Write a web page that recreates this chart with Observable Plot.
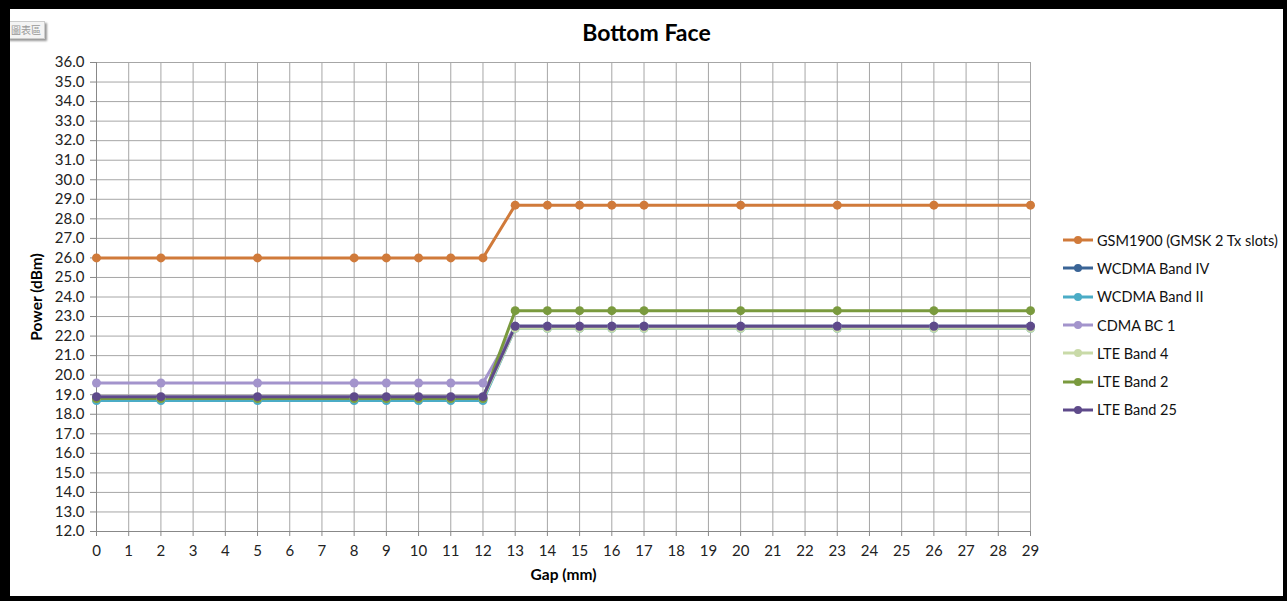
<!DOCTYPE html>
<html>
<head>
<meta charset="utf-8">
<script src="https://cdn.jsdelivr.net/npm/d3@7"></script>
<script src="https://cdn.jsdelivr.net/npm/@observablehq/plot@0.6"></script>
<style>
  html, body { margin: 0; padding: 0; background: #fff; }
  #frame {
    position: relative; width: 1287px; height: 601px; box-sizing: border-box;
    border-top: 9px solid #000; border-left: 10px solid #000;
    border-right: 4px solid #000; border-bottom: 5px solid #000;
    font-family: Lato, "Open Sans", sans-serif; overflow: hidden;
  }
  #title { position: absolute; left: 0; top: 0; width: 1273px; height: 41px; text-align: center;
    font-size: 23px; font-weight: bold; line-height: 46px; color: #000; }
  #tip { position: absolute; left: -3px; top: 12px; padding: 0 3px; font-size: 10px; line-height: 16px;
    color: #999; background: #f4f4f4; border: 1px solid #ccc; box-shadow: 2px 2px 2px #999;
    font-family: "Noto Sans CJK TC", sans-serif; }
  #chart { position: absolute; left: 0; top: 41px; }
  #legend { position: absolute; left: 1052px; top: 217px; font-size: 14.5px; color: #111; }
  .row { height: 28.3px; display: flex; align-items: center; }
  .row svg { margin-right: 3px; }
</style>
</head>
<body>
<div id="frame">
  <div id="title">Bottom Face</div>
  <div id="tip">圖表區</div>
  <div id="chart"></div>
  <div id="legend"></div>
</div>
<script>
const gaps = [0, 2, 5, 8, 9, 10, 11, 12, 13, 14, 15, 16, 17, 20, 23, 26, 29];
const seriesNames = ["GSM1900 (GMSK 2 Tx slots)", "WCDMA Band IV", "WCDMA Band II", "CDMA BC 1", "LTE Band 4", "LTE Band 2", "LTE Band 25"];
const seriesColors = ["#D07A3A", "#3A6496", "#4BACC6", "#A394CC", "#C9DAA8", "#7A9A3E", "#5E4A8A"];
const gsm1900   = [26.0, 26.0, 26.0, 26.0, 26.0, 26.0, 26.0, 26.0, 28.7, 28.7, 28.7, 28.7, 28.7, 28.7, 28.7, 28.7, 28.7];
const wcdmaIV   = [18.8, 18.8, 18.8, 18.8, 18.8, 18.8, 18.8, 18.8, 22.5, 22.5, 22.5, 22.5, 22.5, 22.5, 22.5, 22.5, 22.5];
const wcdmaII   = [18.7, 18.7, 18.7, 18.7, 18.7, 18.7, 18.7, 18.7, 22.4, 22.4, 22.4, 22.4, 22.4, 22.4, 22.4, 22.4, 22.4];
const cdmaBC1   = [19.6, 19.6, 19.6, 19.6, 19.6, 19.6, 19.6, 19.6, 22.5, 22.5, 22.5, 22.5, 22.5, 22.5, 22.5, 22.5, 22.5];
const lteBand4  = [18.8, 18.8, 18.8, 18.8, 18.8, 18.8, 18.8, 18.8, 22.4, 22.4, 22.4, 22.4, 22.4, 22.4, 22.4, 22.4, 22.4];
const lteBand2  = [18.8, 18.8, 18.8, 18.8, 18.8, 18.8, 18.8, 18.8, 23.3, 23.3, 23.3, 23.3, 23.3, 23.3, 23.3, 23.3, 23.3];
const lteBand25 = [18.9, 18.9, 18.9, 18.9, 18.9, 18.9, 18.9, 18.9, 22.5, 22.5, 22.5, 22.5, 22.5, 22.5, 22.5, 22.5, 22.5];
const xTicks = [0,1,2,3,4,5,6,7,8,9,10,11,12,13,14,15,16,17,18,19,20,21,22,23,24,25,26,27,28,29];
const yTicks = [12,13,14,15,16,17,18,19,20,21,22,23,24,25,26,27,28,29,30,31,32,33,34,35,36];

const allSeries = [gsm1900, wcdmaIV, wcdmaII, cdmaBC1, lteBand4, lteBand2, lteBand25];
const rows = [];
allSeries.forEach((vals, si) => vals.forEach((v, i) => rows.push({series: seriesNames[si], gap: gaps[i], power: v})));

const chart = Plot.plot({
  width: 1273, height: 546,
  marginLeft: 86, marginRight: 253, marginTop: 12, marginBottom: 65,
  style: {fontFamily: "Lato, 'Open Sans', sans-serif", fontSize: "15px", color: "#222", background: "#fff"},
  x: {domain: [0, 29], label: null},
  y: {domain: [12, 36], label: null},
  color: {domain: seriesNames, range: seriesColors},
  marks: [
    Plot.gridX(xTicks, {stroke: "#a6a6a6", strokeOpacity: 1}),
    Plot.gridY(yTicks, {stroke: "#a6a6a6", strokeOpacity: 1}),
    Plot.ruleX([0], {stroke: "#888"}),
    Plot.ruleY([12], {stroke: "#888"}),
    Plot.axisX(xTicks, {tickSize: 5, tickPadding: 9, stroke: "#888", fill: "#222", fontSize: 15}),
    Plot.axisY(yTicks, {tickSize: 6, tickPadding: 6, stroke: "#888", fill: "#222", fontSize: 15, tickFormat: d3.format(".1f")}),
    Plot.line(rows, {x: "gap", y: "power", z: "series", stroke: "series", strokeWidth: 3}),
    Plot.dot(rows, {x: "gap", y: "power", fill: "series", r: 4.5}),
    Plot.text(["Gap (mm)"], {frameAnchor: "bottom", dy: 48, fontWeight: "bold", fontSize: 15.5, fill: "#000"}),
    Plot.text(["Power (dBm)"], {frameAnchor: "left", textAnchor: "middle", dx: -59, rotate: -90, fontWeight: "bold", fontSize: 15.5, fill: "#000"})
  ]
});
document.getElementById("chart").appendChild(chart);

const legend = document.getElementById("legend");
seriesNames.forEach((name, i) => {
  const row = document.createElement("div");
  row.className = "row";
  row.innerHTML = `<svg width="32" height="12"><line x1="1" y1="6" x2="31" y2="6" stroke="${seriesColors[i]}" stroke-width="3"/><circle cx="16" cy="6" r="4" fill="${seriesColors[i]}"/></svg><span>${name}</span>`;
  legend.appendChild(row);
});
</script>
</body>
</html>
